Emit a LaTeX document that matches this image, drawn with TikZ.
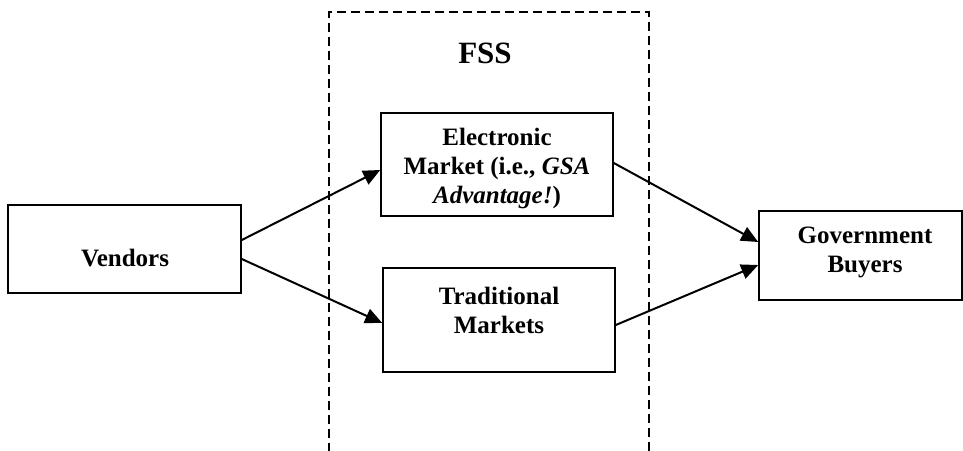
\documentclass[tikz,border=0pt]{standalone}
\usepackage{fontspec}
\setmainfont{Liberation Serif}
\usetikzlibrary{arrows.meta}
\begin{document}
\begin{tikzpicture}[x=1pt,y=-1pt,
  box/.style={draw=black,line width=1.6pt,rectangle,inner sep=0pt},
  txt/.style={font=\fontsize{25}{29}\selectfont\bfseries,align=center,inner sep=0pt},
  arr/.style={line width=2pt,-{Triangle[length=17pt,width=15pt]}},
  fssline/.style={line width=1.5pt,dash pattern=on 9pt off 5pt}]
\useasboundingbox (0,0) rectangle (963,450);
% FSS dashed region
\coordinate (fbl) at (329,452);
\coordinate (ftl) at (329,12);
\coordinate (ftr) at (649,12);
\coordinate (fbr) at (649,452);
\draw[fssline] (fbl) -- (ftl) -- (ftr) -- (fbr);
\node[txt,font=\fontsize{31}{36}\selectfont\bfseries] (fss) at (485,53) {FSS};
% boxes
\node[box,minimum width=233pt,minimum height=88pt] (vend) at (124.5,249) {};
\node[box,minimum width=232pt,minimum height=103pt] (elec) at (497,164.5) {};
\node[box,minimum width=232pt,minimum height=104pt] (trad) at (499,320) {};
\node[box,minimum width=203pt,minimum height=89pt] (gov) at (860.5,255.5) {};
% texts
\node[txt] (vendt) at (125,258) {Vendors};
\node[txt] (elect) at (497,168) {Electronic\\Market (i.e., \textit{GSA}\\\textit{Advantage!})};
\node[txt] (tradt) at (499,310) {Traditional\\Markets};
\node[txt] (govt) at (865,252) {Government\\Buyers};
% arrows
\draw[arr] ([yshift=9pt]vend.east) -- ([yshift=-5.5pt]elec.west);
\draw[arr] ([yshift=-10pt]vend.east) -- ([yshift=-3pt]trad.west);
\draw[arr] ([yshift=1.5pt]elec.east) -- ([yshift=13.5pt]gov.west);
\draw[arr] ([yshift=-5pt]trad.east) -- ([yshift=-9.5pt]gov.west);
\end{tikzpicture}
\end{document}
